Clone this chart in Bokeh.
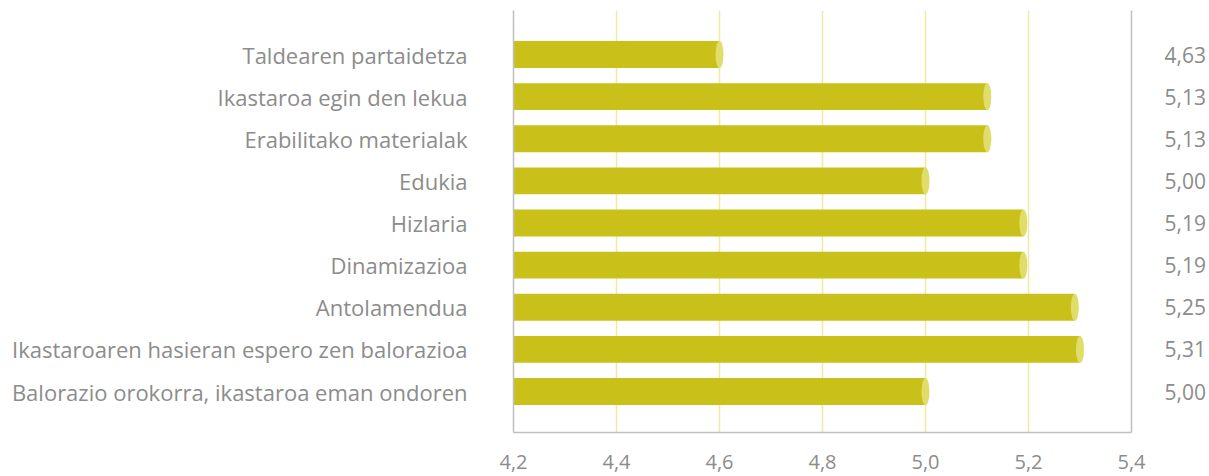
from bokeh.plotting import figure
from bokeh.models import Range1d, FixedTicker, LinearAxis, ColumnDataSource
from bokeh.embed import file_html
from bokeh.resources import INLINE

categories = [
    "Taldearen partaidetza",
    "Ikastaroa egin den lekua",
    "Erabilitako materialak",
    "Edukia",
    "Hizlaria",
    "Dinamizazioa",
    "Antolamendua",
    "Ikastaroaren hasieran espero zen balorazioa",
    "Balorazio orokorra, ikastaroa eman ondoren",
]
values = [4.60, 5.12, 5.12, 5.00, 5.19, 5.19, 5.29, 5.30, 5.00]
value_labels = ["4,63", "5,13", "5,13", "5,00", "5,19", "5,19", "5,25", "5,31", "5,00"]
x_ticks = [4.2, 4.4, 4.6, 4.8, 5.0, 5.2, 5.4]
x_tick_labels = ["4,2", "4,4", "4,6", "4,8", "5,0", "5,2", "5,4"]
axis_start = 4.2
axis_end = 5.4

positions = list(range(len(categories)))
source = ColumnDataSource(dict(
    y=positions,
    left=[axis_start] * len(values),
    right=values,
))

FONT = "Open Sans"
TEXT = "#8c8c8c"
GRAY = "#bfbfbf"
BAR = "#c9c11a"
CAP = "#e0dd6b"
GRID = "#efeaa3"

p = figure(
    width=1209, height=476,
    x_range=Range1d(axis_start, axis_end),
    y_range=Range1d(len(categories) - 1 + 0.973, -1.0445),
    output_backend="svg", toolbar_location=None,
    min_border_left=513, min_border_right=78,
    min_border_top=10, min_border_bottom=44,
    x_axis_location="below", y_axis_location="left",
)
p.outline_line_color = None
p.background_fill_color = "white"
p.border_fill_color = "white"

# bars (cylinders)
p.hbar(y="y", left="left", right="right", height=0.64, source=source,
       fill_color=BAR, line_color=None)
p.ellipse(x="left", y="y", width=8, width_units="screen", height=0.64,
          source=source, fill_color=BAR, line_color=None)
p.ellipse(x="right", y="y", width=8, width_units="screen", height=0.64,
          source=source, fill_color=CAP, line_color=None)

# x axis
xa = p.xaxis[0]
xa.ticker = FixedTicker(ticks=x_ticks)
xa.major_label_overrides = {t: l for t, l in zip(x_ticks, x_tick_labels)}
xa.major_tick_line_color = None
xa.minor_tick_line_color = None
xa.axis_line_color = GRAY
xa.axis_line_width = 1.5
xa.major_label_standoff = 16
xa.major_label_text_font = FONT
xa.major_label_text_font_size = "20px"
xa.major_label_text_color = TEXT

# left axis with category names
ya = p.yaxis[0]
ya.ticker = FixedTicker(ticks=positions)
ya.major_label_overrides = {i: c for i, c in zip(positions, categories)}
ya.major_tick_line_color = None
ya.minor_tick_line_color = None
ya.axis_line_color = GRAY
ya.axis_line_width = 1.5
ya.major_label_standoff = 40
ya.major_label_text_font = FONT
ya.major_label_text_font_size = "22px"
ya.major_label_text_color = TEXT

# right axis with value labels
ra = LinearAxis(ticker=FixedTicker(ticks=positions))
ra.major_label_overrides = {i: v for i, v in zip(positions, value_labels)}
ra.major_tick_line_color = None
ra.minor_tick_line_color = None
ra.axis_line_color = GRAY
ra.axis_line_width = 1.5
ra.major_label_standoff = 27
ra.major_label_text_font = FONT
ra.major_label_text_font_size = "21px"
ra.major_label_text_color = TEXT
p.add_layout(ra, "right")

# grid
p.xgrid.ticker = FixedTicker(ticks=x_ticks)
p.xgrid.grid_line_color = GRID
p.xgrid.grid_line_width = 1.5
p.ygrid.grid_line_color = None

open("out.html", "w").write(file_html(p, INLINE))
